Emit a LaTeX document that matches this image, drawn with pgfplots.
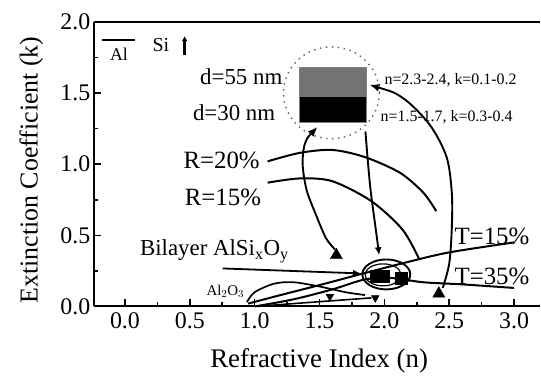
\documentclass[border=0pt]{standalone}
\usepackage{fontspec}
\setmainfont{Liberation Serif}
\usepackage{pgfplots}
\pgfplotsset{compat=1.18}
\usetikzlibrary{arrows.meta}
\begin{document}
\begin{tikzpicture}
\path (-94bp,-64bp) rectangle (447bp,307bp);
\begin{axis}[
  at={(0,0)}, anchor=south west,
  scale only axis, width=447bp, height=285bp,
  xmin=-0.24, xmax=3.2, ymin=0, ymax=2.0,
  axis lines*=left,
  xtick={0,0.5,1,1.5,2,2.5,3}, ytick={0,0.5,1,1.5,2},
  minor x tick num=1, minor y tick num=1,
  tick align=inside,
  major tick length=7bp, minor tick length=4bp,
  every tick/.style={black, line width=1.5bp},
  axis line style={line width=2bp, -},
  /pgf/number format/assume math mode=true,
  xticklabel style={font=\fontsize{24}{24}\selectfont, yshift=-3bp, /pgf/number format/.cd, fixed, fixed zerofill, precision=1},
  yticklabel style={font=\fontsize{24}{24}\selectfont, /pgf/number format/.cd, fixed, fixed zerofill, precision=1},
  xlabel={Refractive Index (n)},
  ylabel={Extinction Coefficient (k)},
  xlabel style={font=\fontsize{27}{27}\selectfont, at={(axis description cs:0.505,-0.19)}, anchor=center},
  ylabel style={font=\fontsize{26}{26}\selectfont, at={(axis description cs:-0.14,0.48)}, anchor=center},
  clip=false,
]
\draw[line width=2bp] (rel axis cs:0,1) -- (rel axis cs:1,1);
% R contours
\addplot[smooth, line width=2bp] coordinates {(1.1,1.02) (1.35,1.08) (1.6,1.10) (1.85,1.05) (2.12,0.94) (2.3,0.8) (2.4,0.67)};
\addplot[smooth, line width=2bp] coordinates {(1.1,0.87) (1.35,0.90) (1.6,0.88) (1.9,0.74) (2.14,0.54) (2.27,0.33)};
% T contours
\addplot[smooth, line width=2bp] coordinates {(0.95,0.02) (1.2,0.08) (1.5,0.15) (1.83,0.23) (2.17,0.31) (2.5,0.38) (3.0,0.45)};
\addplot[smooth, line width=2bp] coordinates {(1.0,0.0) (1.3,0.05) (1.6,0.12) (1.85,0.19) (2.05,0.2) (2.3,0.17) (2.6,0.155) (3.0,0.13)};
\addplot[smooth, line width=1.6bp] coordinates {(1.02,0.0) (1.3,0.02) (1.6,0.04) (1.9,0.06)};
% Al2O3 contour
\addplot[smooth, line width=1.7bp] coordinates {(0.94,0.03) (1.0,0.1) (1.15,0.16) (1.3,0.17) (1.5,0.14) (1.7,0.1) (1.85,0.08)};
% bilayer pointer
\addplot[line width=1.8bp, -{Latex[length=8bp,width=7bp]}] coordinates {(0.754,0.267) (1.82,0.232)};
% arrows from inset
\addplot[smooth, line width=1.9bp, {Latex[length=10bp,width=8bp]}-] coordinates {(1.485,1.263) (1.39,1.15) (1.37,1.0) (1.40,0.82) (1.47,0.65) (1.55,0.48) (1.62,0.40)};
\addplot[smooth, line width=1.9bp, -{Latex[length=8bp,width=7bp]}] coordinates {(1.854,1.23) (1.89,0.85) (1.94,0.50) (1.96,0.36)};
\addplot[smooth, line width=1.9bp, {Latex[length=10bp,width=8bp]}-] coordinates {(1.885,1.558) (2.14,1.467) (2.35,1.277) (2.48,1.05) (2.52,0.80) (2.52,0.55) (2.50,0.30) (2.45,0.13)};
% markers
\addplot[only marks, mark=triangle*, mark size=7bp, black] coordinates {(1.63,0.36) (2.42,0.09)};
\addplot[only marks, mark=triangle*, mark options={rotate=180}, mark size=4.5bp, black] coordinates {(1.58,0.07) (1.93,0.06)};
\addplot[only marks, mark=square*, mark size=6bp, black] coordinates {(1.94,0.21) (1.99,0.215) (2.13,0.2)};
% ellipse around bilayer points
\draw[line width=1.9bp] (axis cs:2.015,0.225) ellipse [x radius=24bp, y radius=15bp];
\draw[line width=1.2bp] (axis cs:1.99,0.222) ellipse [x radius=18bp, y radius=11bp];
% inset
\draw[black!60, line width=1.4bp, dash pattern=on 1.5bp off 4.5bp] (axis cs:1.592,1.502) ellipse [x radius=48bp, y radius=46bp];
\fill[black!55] (axis cs:1.346,1.474) rectangle (axis cs:1.862,1.684);
\fill[black] (axis cs:1.346,1.291) rectangle (axis cs:1.862,1.474);
\draw[black!50, line width=0.8bp] (axis cs:1.346,1.291) rectangle (axis cs:1.862,1.684);
\node[anchor=east, font=\fontsize{23}{23}\selectfont, inner sep=0pt] at (axis cs:1.215,1.614) {d=55 nm};
\node[anchor=east, font=\fontsize{23}{23}\selectfont, inner sep=0pt] at (axis cs:1.16,1.361) {d=30 nm};
\node[anchor=west, font=\fontsize{16}{16}\selectfont, inner sep=0pt] at (axis cs:2.0,1.593) {n=2.3-2.4, k=0.1-0.2};
\node[anchor=west, font=\fontsize{16}{16}\selectfont, inner sep=0pt] at (axis cs:1.97,1.333) {n=1.5-1.7, k=0.3-0.4};
% labels
\node[anchor=west, font=\fontsize{25}{25}\selectfont, inner sep=0pt] at (axis cs:0.45,1.03) {R=20\%};
\node[anchor=west, font=\fontsize{25}{25}\selectfont, inner sep=0pt] at (axis cs:0.46,0.77) {R=15\%};
\node[anchor=west, font=\fontsize{25}{25}\selectfont, inner sep=0pt] at (axis cs:2.54,0.49) {T=15\%};
\node[anchor=west, font=\fontsize{25}{25}\selectfont, inner sep=0pt] at (axis cs:2.54,0.21) {T=35\%};
\node[anchor=west, font=\fontsize{23}{23}\selectfont, inner sep=0pt] at (axis cs:0.115,0.386) {Bilayer AlSi$_{\mathrm{x}}$O$_{\mathrm{y}}$};
\node[anchor=east, font=\fontsize{15}{15}\selectfont, inner sep=0pt] at (axis cs:0.92,0.105) {Al$_2$O$_3$};
% legend
\draw[line width=1.7bp] (axis cs:-0.177,1.874) -- (axis cs:0.077,1.874);
\node[font=\fontsize{18}{18}\selectfont, inner sep=0pt] at (axis cs:-0.046,1.77) {Al};
\node[font=\fontsize{20}{20}\selectfont, inner sep=0pt] at (axis cs:0.277,1.84) {Si};
\draw[line width=2.5bp, -{Latex[length=5bp,width=6bp]}] (axis cs:0.46,1.768) -- (axis cs:0.46,1.9);
\end{axis}
\end{tikzpicture}
\end{document}
